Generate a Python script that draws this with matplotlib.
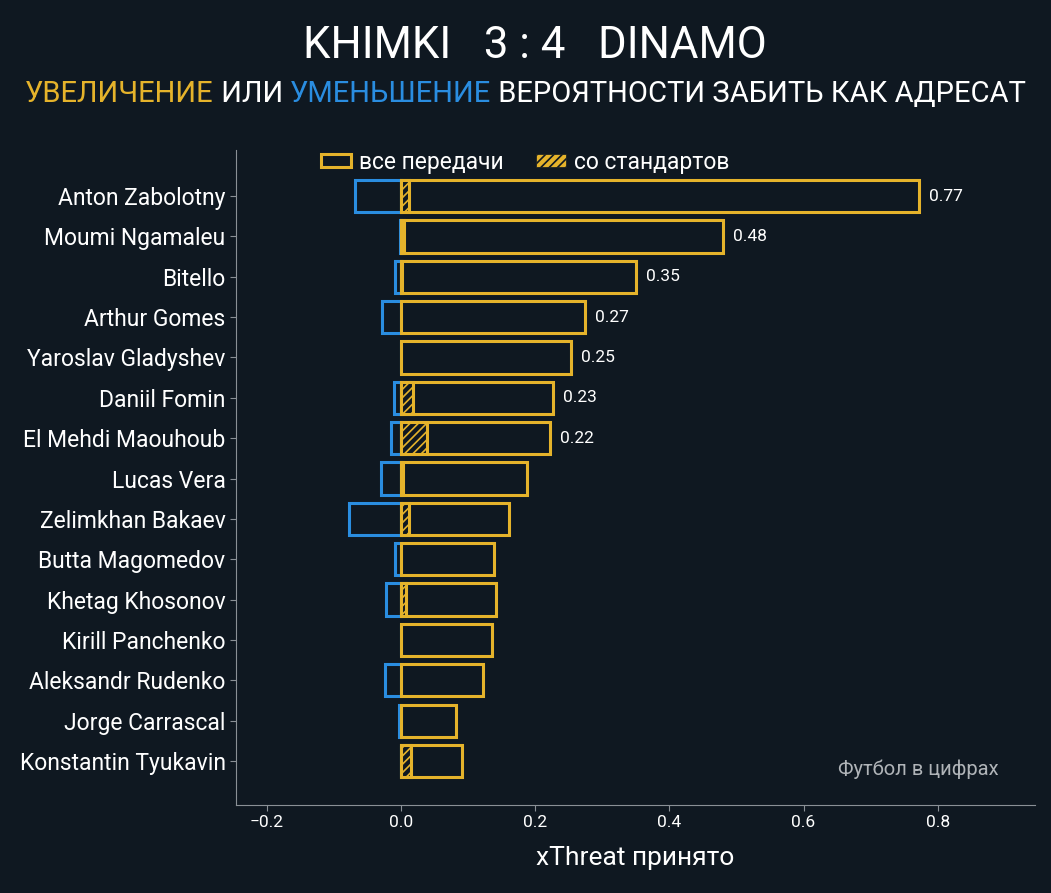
import numpy as np
import matplotlib.pyplot as plt
from matplotlib.patches import Patch

plt.rcParams['font.family'] = ['Roboto', 'DejaVu Sans']
plt.rcParams['hatch.linewidth'] = 1.2

# данные
players = ['Anton Zabolotny', 'Moumi Ngamaleu', 'Bitello', 'Arthur Gomes',
           'Yaroslav Gladyshev', 'Daniil Fomin', 'El Mehdi Maouhoub', 'Lucas Vera',
           'Zelimkhan Bakaev', 'Butta Magomedov', 'Khetag Khosonov', 'Kirill Panchenko',
           'Aleksandr Rudenko', 'Jorge Carrascal', 'Konstantin Tyukavin']
xt_pos = [0.772, 0.48, 0.35, 0.274, 0.254, 0.227, 0.222, 0.188, 0.161,
          0.139, 0.142, 0.136, 0.122, 0.082, 0.091]
xt_neg = [-0.069, -0.002, -0.009, -0.028, 0.0, -0.010, -0.015, -0.030, -0.077,
          -0.009, -0.022, 0.0, -0.024, -0.003, 0.0]
xt_set = [0.012, 0.004, 0.002, 0.0, 0.0, 0.018, 0.039, 0.003, 0.012,
          0.0, 0.008, 0.0, 0.0, 0.0, 0.015]
xticks = [-0.2, 0.0, 0.2, 0.4, 0.6, 0.8]

bg = '#0f1821'
yellow = '#e5b32b'
blue = '#2a8de0'
spine_c = '#8a9096'

fig = plt.figure(figsize=(10.51, 8.93), dpi=100, facecolor=bg)
ax = fig.add_axes([0.2245, 0.0985, 0.7603, 0.7335], facecolor=bg)

y = np.arange(len(players))
h = 0.8
lw = 2.2

# уменьшение (синий)
ax.barh(y, xt_neg, height=h, color=bg, edgecolor=blue, linewidth=lw)
# все передачи
ax.barh(y, xt_pos, height=h, color=bg, edgecolor=yellow, linewidth=lw)
# со стандартов
for yi, v in zip(y, xt_set):
    if v > 0:
        ax.barh(yi, v, height=h, color=bg, edgecolor=yellow, linewidth=lw, hatch='////')

# подписи значений
for yi, v in zip(y, xt_pos):
    if v >= 0.2:
        ax.text(v + 0.015, yi, f'{v:.2f}', color='white', fontsize=12.5,
                va='center', ha='left')

ax.set_ylim(len(players) - 1 + 1.09, -1.14)
ax.set_xlim(-0.246, 0.945)
ax.set_yticks(y)
ax.set_yticklabels(players, fontsize=16.5, color='white')
ax.set_xticks(xticks)
ax.set_xticklabels([f'{t:.1f}'.replace('-', '\u2212') for t in xticks], fontsize=12.5, color='white')
ax.tick_params(axis='x', colors=spine_c, labelcolor='white', length=4)
ax.tick_params(axis='y', colors=spine_c, labelcolor='white', length=4)
ax.set_xlabel('xThreat принято', color='white', fontsize=19, labelpad=11)

for s in ['top', 'right']:
    ax.spines[s].set_visible(False)
for s in ['left', 'bottom']:
    ax.spines[s].set_color(spine_c)

handles = [Patch(facecolor=bg, edgecolor=yellow, linewidth=lw, label='все передачи'),
           Patch(facecolor=yellow, edgecolor=bg, linewidth=0.5, hatch='////', label='со стандартов')]
leg = ax.legend(handles=handles, loc='upper center', bbox_to_anchor=(0.362, 1.03), ncol=2,
                frameon=False, fontsize=16.5, labelcolor='white', handlelength=1.3,
                handleheight=0.5, columnspacing=1.4, handletextpad=0.35)

ax.text(0.954, 0.055, 'Футбол в цифрах', transform=ax.transAxes, color='#b0b4b8',
        fontsize=14.5, ha='right', va='center')

# заголовок
fig.text(0.509, 0.948, 'KHIMKI   3 : 4   DINAMO', color='white', fontsize=31.5,
         ha='center', va='center')

# подзаголовок из цветных частей
parts = [('УВЕЛИЧЕНИЕ', yellow), (' ИЛИ ', 'white'), ('УМЕНЬШЕНИЕ', blue),
         (' ВЕРОЯТНОСТИ ЗАБИТЬ КАК АДРЕСАТ', 'white')]
renderer = fig.canvas.get_renderer()
texts = []
widths = []
for s, c in parts:
    t = fig.text(0, 0.895, s, color=c, fontsize=21, ha='left', va='center')
    bb = t.get_window_extent(renderer=renderer)
    texts.append(t)
    widths.append(bb.width / fig.bbox.width)
x0 = 0.5 - sum(widths) / 2
for t, w in zip(texts, widths):
    t.set_x(x0)
    x0 += w

fig.savefig('out.png', dpi=100, facecolor=bg)
